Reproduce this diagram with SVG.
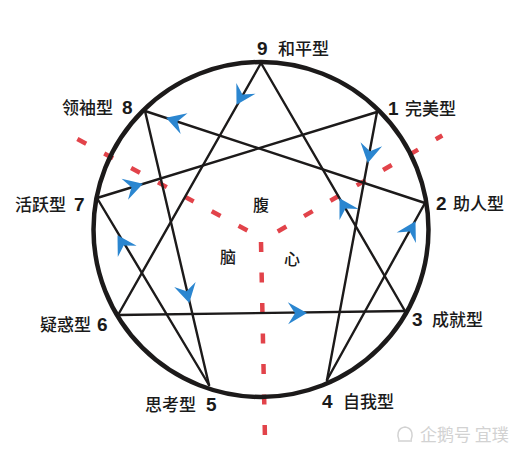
<svg xmlns="http://www.w3.org/2000/svg" width="526" height="452" viewBox="0 0 526 452">
<style>
.edge{stroke:#1c1a1a;stroke-width:2.4;fill:none;stroke-linecap:round}
.ring{stroke:#1c1a1a;stroke-width:4.5;fill:none}
.dash{stroke:#e2434a;stroke-width:4.5;fill:none;stroke-dasharray:10 20.5}
.num{font-family:"Liberation Sans",Arial,sans-serif;font-weight:bold;font-size:19px;fill:#1a1a1a}
.lbl{font-family:"Noto Sans CJK SC","Noto Sans",sans-serif;font-weight:500;font-size:17px;fill:#1a1a1a}
.ctr{font-family:"Noto Sans CJK SC","Noto Sans",sans-serif;font-weight:500;font-size:16px;fill:#1a1a1a}
.wm{font-family:"Noto Sans CJK SC","Noto Sans",sans-serif;font-size:17px;fill:#d2d2d2}
</style>
<defs>
<path id="ah" d="M1,0 L-18,-11 L-11,0 L-18,11 Z" fill="#2b86d0"/>
</defs>
<rect width="526" height="452" fill="#ffffff"/>
<g id="centers">
<line class="dash" x1="261" y1="242" x2="265" y2="440"/>
<line class="dash" x1="247.4" y1="230.4" x2="74.6" y2="137.6"/>
<line class="dash" x1="277.7" y1="231.5" x2="442.3" y2="135.5"/>
<text class="ctr" x="261" y="211" text-anchor="middle">腹</text>
<text class="ctr" x="228" y="263" text-anchor="middle">脑</text>
<text class="ctr" x="292" y="265" text-anchor="middle">心</text>
</g>
<g id="ring"><circle class="ring" cx="261" cy="229.5" r="167.5"/></g>
<g id="connectors">
<line class="edge" x1="261" y1="63" x2="118" y2="315"/>
<line class="edge" x1="118" y1="315" x2="405" y2="311"/>
<line class="edge" x1="405" y1="311" x2="261" y2="63"/>
<line class="edge" x1="377" y1="112" x2="327" y2="380"/>
<line class="edge" x1="327" y1="380" x2="425" y2="203"/>
<line class="edge" x1="425" y1="203" x2="145" y2="111"/>
<line class="edge" x1="145" y1="111" x2="209" y2="385"/>
<line class="edge" x1="209" y1="385" x2="97" y2="198"/>
<line class="edge" x1="97" y1="198" x2="377" y2="112"/>
<use href="#ah" transform="translate(237,104) rotate(119.6)"/>
<use href="#ah" transform="translate(167,118) rotate(-161.8)"/>
<use href="#ah" transform="translate(142,184) rotate(-17.1)"/>
<use href="#ah" transform="translate(118,236) rotate(-120.9)"/>
<use href="#ah" transform="translate(189,302) rotate(76.9)"/>
<use href="#ah" transform="translate(306,313) rotate(-0.8)"/>
<use href="#ah" transform="translate(415,222) rotate(-61)"/>
<use href="#ah" transform="translate(368,162) rotate(100.6)"/>
<use href="#ah" transform="translate(340,199) rotate(-120.1)"/>
</g>
<g id="n9"><text class="num" x="257" y="55">9</text><text class="lbl" x="278" y="55">和平型</text></g>
<g id="n1"><text class="num" x="388" y="115">1</text><text class="lbl" x="405" y="115">完美型</text></g>
<g id="n2"><text class="num" x="436" y="210">2</text><text class="lbl" x="453" y="210">助人型</text></g>
<g id="n3"><text class="num" x="412" y="326">3</text><text class="lbl" x="432" y="326">成就型</text></g>
<g id="n4"><text class="num" x="322" y="408">4</text><text class="lbl" x="343" y="408">自我型</text></g>
<g id="n5"><text class="lbl" x="145" y="411">思考型</text><text class="num" x="206" y="411">5</text></g>
<g id="n6"><text class="lbl" x="40" y="331">疑惑型</text><text class="num" x="97" y="331">6</text></g>
<g id="n7"><text class="lbl" x="15" y="211">活跃型</text><text class="num" x="74" y="211">7</text></g>
<g id="n8"><text class="lbl" x="62" y="114">领袖型</text><text class="num" x="122" y="114">8</text></g>
<g id="watermark">
<path d="M399,440 C397,436 397,428 405,427 C413,428 413,436 411,440 M398,441 L412,441" stroke="#d2d2d2" stroke-width="1.5" fill="none"/>
<text class="wm" x="420" y="441">企鹅号 宜璞</text>
</g>
</svg>
